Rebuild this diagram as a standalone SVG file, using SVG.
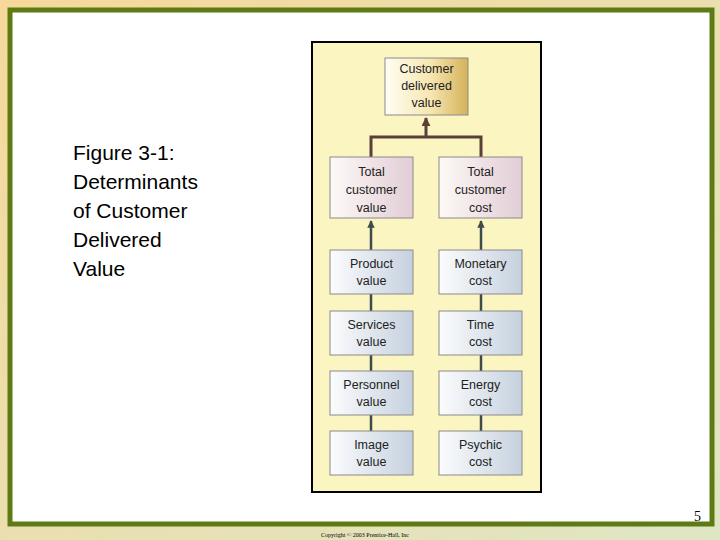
<svg xmlns="http://www.w3.org/2000/svg" width="720" height="540" viewBox="0 0 720 540">
<defs>
<linearGradient id="bg" x1="0" y1="0" x2="1" y2="1"><stop offset="0" stop-color="#f6d89a"/><stop offset="1" stop-color="#dfe6c4"/></linearGradient>
<linearGradient id="gold" x1="0" x2="1"><stop offset="0" stop-color="#fffef4"/><stop offset="0.55" stop-color="#f6e6b0"/><stop offset="1" stop-color="#d4b25a"/></linearGradient>
<linearGradient id="pink" x1="0" x2="1"><stop offset="0" stop-color="#fdf9f6"/><stop offset="1" stop-color="#e2cdd6"/></linearGradient>
<linearGradient id="blue" x1="0" x2="1"><stop offset="0" stop-color="#fbfcfd"/><stop offset="1" stop-color="#c6d1de"/></linearGradient>
<marker id="ah" viewBox="0 0 10 10" refX="9" refY="5" markerWidth="3" markerHeight="3" orient="auto"><path d="M0,0 L10,5 L0,10 z" fill="#3f4a4a"/></marker>
<marker id="ah2" viewBox="0 0 10 10" refX="9" refY="5" markerWidth="3" markerHeight="3" orient="auto"><path d="M0,0 L10,5 L0,10 z" fill="#5a4038"/></marker>
</defs>
<style>
.b{stroke:#8a8a8a;stroke-width:1}
.t{font-family:"Liberation Sans Narrow","Liberation Sans",sans-serif;font-size:12.5px;fill:#222;text-anchor:middle}
.ttl{font-family:"Liberation Sans",Arial,sans-serif;font-size:21px;fill:#000}
</style>
<rect width="720" height="540" fill="url(#bg)"/>
<rect x="10" y="10" width="702" height="514" fill="#fff" stroke="#5e7a14" stroke-width="5"/>
<text class="ttl" x="73" y="160">Figure 3-1:</text>
<text class="ttl" x="73" y="189">Determinants</text>
<text class="ttl" x="73" y="218">of Customer</text>
<text class="ttl" x="73" y="247">Delivered</text>
<text class="ttl" x="73" y="276">Value</text>
<rect x="312" y="42" width="229" height="450" fill="#fbf5c2" stroke="#000" stroke-width="2"/>
<g id="connectors" fill="none">
<path d="M371,157 V137 H481 V157" stroke="#5a4038" stroke-width="3"/>
<path d="M426,137 V118" stroke="#5a4038" stroke-width="3" marker-end="url(#ah2)"/>
<path d="M371,475 V221" stroke="#3f4a4a" stroke-width="2.5" marker-end="url(#ah)"/>
<path d="M481,475 V221" stroke="#3f4a4a" stroke-width="2.5" marker-end="url(#ah)"/>
</g>
<g id="cdv"><rect class="b" x="385" y="58" width="83" height="57" fill="url(#gold)"/><text class="t" x="426.5" y="73">Customer</text><text class="t" x="426.5" y="90">delivered</text><text class="t" x="426.5" y="107">value</text></g>
<g id="tcv"><rect class="b" x="330" y="157" width="83" height="61" fill="url(#pink)"/><text class="t" x="371.5" y="176">Total</text><text class="t" x="371.5" y="194">customer</text><text class="t" x="371.5" y="212">value</text></g>
<g id="tcc"><rect class="b" x="439" y="157" width="83" height="61" fill="url(#pink)"/><text class="t" x="480.5" y="176">Total</text><text class="t" x="480.5" y="194">customer</text><text class="t" x="480.5" y="212">cost</text></g>
<g id="pv"><rect class="b" x="330" y="250" width="83" height="44" fill="url(#blue)"/><text class="t" x="371.5" y="268">Product</text><text class="t" x="371.5" y="285">value</text></g>
<g id="mc"><rect class="b" x="439" y="250" width="83" height="44" fill="url(#blue)"/><text class="t" x="480.5" y="268">Monetary</text><text class="t" x="480.5" y="285">cost</text></g>
<g id="sv"><rect class="b" x="330" y="311" width="83" height="44" fill="url(#blue)"/><text class="t" x="371.5" y="329">Services</text><text class="t" x="371.5" y="346">value</text></g>
<g id="tc"><rect class="b" x="439" y="311" width="83" height="44" fill="url(#blue)"/><text class="t" x="480.5" y="329">Time</text><text class="t" x="480.5" y="346">cost</text></g>
<g id="pe"><rect class="b" x="330" y="371" width="83" height="44" fill="url(#blue)"/><text class="t" x="371.5" y="389">Personnel</text><text class="t" x="371.5" y="406">value</text></g>
<g id="ec"><rect class="b" x="439" y="371" width="83" height="44" fill="url(#blue)"/><text class="t" x="480.5" y="389">Energy</text><text class="t" x="480.5" y="406">cost</text></g>
<g id="iv"><rect class="b" x="330" y="431" width="83" height="44" fill="url(#blue)"/><text class="t" x="371.5" y="449">Image</text><text class="t" x="371.5" y="466">value</text></g>
<g id="pc"><rect class="b" x="439" y="431" width="83" height="44" fill="url(#blue)"/><text class="t" x="480.5" y="449">Psychic</text><text class="t" x="480.5" y="466">cost</text></g>
<text x="701" y="521" font-family="Liberation Serif,serif" font-size="14" text-anchor="end">5</text>
<text x="365" y="537" font-family="Liberation Serif,serif" font-size="6" text-anchor="middle">Copyright © 2003 Prentice-Hall, Inc</text>
</svg>
